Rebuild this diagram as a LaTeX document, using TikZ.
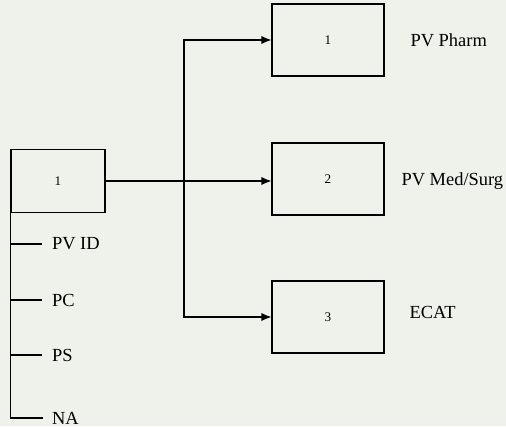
\documentclass[tikz,border=0pt]{standalone}
\usepackage{fontspec}
\setmainfont{Liberation Serif}
\usetikzlibrary{arrows.meta,positioning,calc}
\definecolor{paper}{RGB}{239,241,235}

\begin{document}
\begin{tikzpicture}[x=0.02cm, y=-0.02cm, line width=0.6pt,
        box/.style={draw, minimum width=2.24cm, minimum height=1.44cm, inner sep=0pt, font=\fontsize{7.5}{9}\selectfont},
        lbl/.style={anchor=west, inner sep=0pt, font=\fontsize{10.5}{12}\selectfont},
        leaf/.style={anchor=west, inner sep=0pt, outer sep=0pt, font=\fontsize{10.5}{12}\selectfont}]
        \fill[paper] (0,0) rectangle (506,426);
        \useasboundingbox (0,0) rectangle (506,426);
        % main box and its three targets
        \node[draw, minimum width=1.88cm, minimum height=1.26cm, inner sep=0pt, font=\fontsize{7.5}{9}\selectfont] (m) at (58,181) {1};
        \node[box] (p) at (328,40) {1};
        \node[box] (s) at (328,179) {2};
        \node[box] (e) at (328,317) {3};
        \node[lbl] (pl) at (410,40) {PV Pharm};
        \node[lbl] (sl) at (401,181) {PV Med/Surg};
        \node[lbl] (el) at (409,312) {ECAT};
        \coordinate (j) at (184,181);
        \draw[-{Latex[length=2mm,width=1.6mm]}] (m.east) -- (m.east -| s.west);
        \draw[-{Latex[length=2mm,width=1.6mm]}] (j) |- (p.west);
        \draw[-{Latex[length=2mm,width=1.6mm]}] (j) |- (e.west);
        % list under the main box
        \node[leaf] (id) at (52,244) {PV ID};
        \node[leaf] (pc) at (52,300) {PC};
        \node[leaf] (ps) at (52,355) {PS};
        \node[leaf] (na) at (52,418) {NA};
        \coordinate (n) at (43,418);
        \draw (m.south west) |- (n);
        \foreach \t in {id,pc,ps}
          \draw (m.south west |- \t.west) -- ++(32,0);
      \end{tikzpicture}
\end{document}
